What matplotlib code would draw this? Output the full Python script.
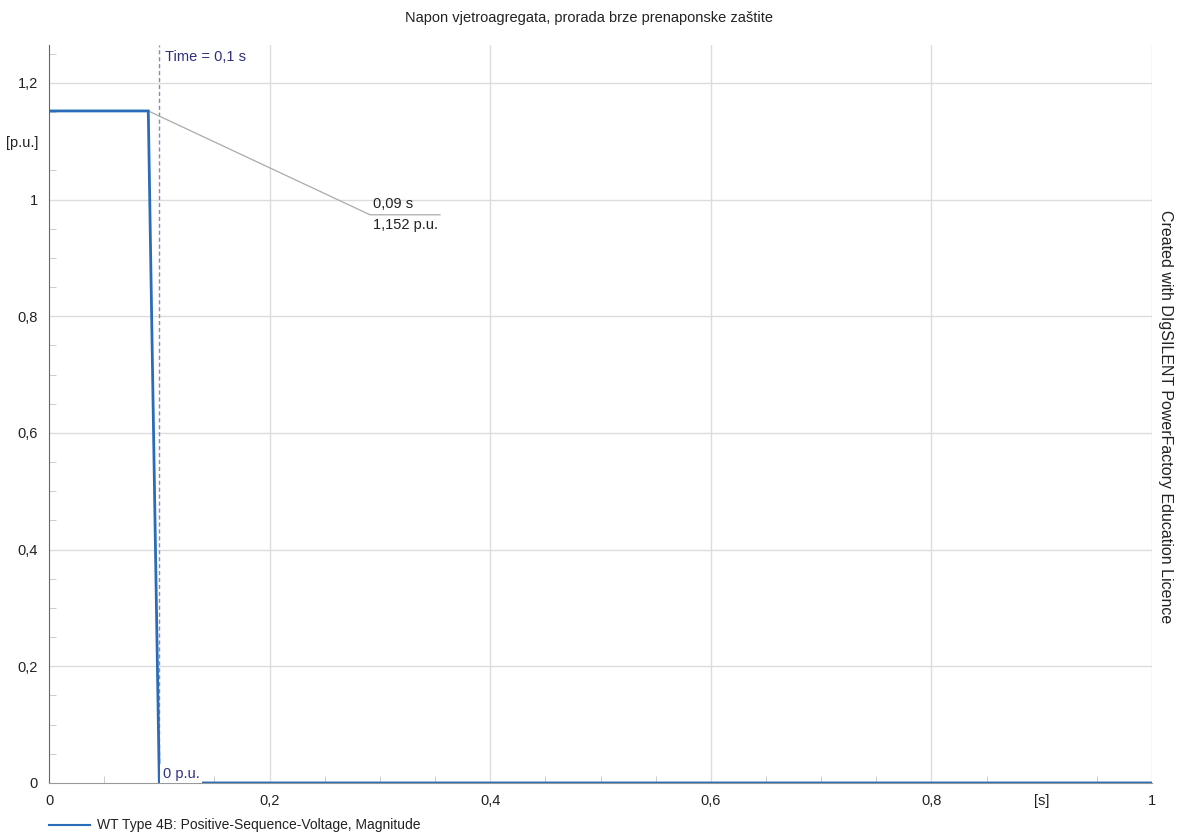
import numpy as np
import matplotlib.pyplot as plt
from matplotlib.ticker import MultipleLocator

plt.rcParams['font.family'] = ['Liberation Sans', 'DejaVu Sans']

# data
t = [0.0, 0.09, 0.1, 1.0]
u = [1.152, 1.152, 0.0, 0.0]
x_ticks = [0, 0.2, 0.4, 0.6, 0.8, 0.9, 1.0]
x_labels = ['0', '0,2', '0,4', '0,6', '0,8', '[s]', '1']
y_ticks = [0, 0.2, 0.4, 0.6, 0.8, 1.0, 1.1, 1.2]
y_labels = ['0', '0,2', '0,4', '0,6', '0,8', '1', '[p.u.]', '1,2']
cursor_t = 0.1
marker_t, marker_u = 0.09, 1.152

blue = '#2b6cb8'
navy = '#2e2e7e'

fig = plt.figure(figsize=(11.78, 8.34), dpi=100)
ax = fig.add_axes([0.0416, 0.0612, 0.9364, 0.8848])

ax.plot(t, u, color=blue, lw=2, zorder=3, solid_joinstyle='miter')
ax.set_xlim(0, 1)
ax.set_ylim(0, 1.265)

ax.set_xticks(x_ticks)
ax.set_xticklabels(x_labels)
ax.set_yticks(y_ticks)
ax.set_yticklabels(y_labels)
ax.xaxis.set_minor_locator(MultipleLocator(0.05))
ax.yaxis.set_minor_locator(MultipleLocator(0.05))
ax.tick_params(which='major', length=0, labelsize=10.5, colors='#222222', pad=8)
ax.tick_params(which='minor', direction='in', length=5, color='#c4c4c4')

for v in [0.2, 0.4, 0.6, 0.8, 1.0]:
    ax.axvline(v, color='#dcdcdc', lw=1, zorder=0)
for v in [0.2, 0.4, 0.6, 0.8, 1.0, 1.2]:
    ax.axhline(v, color='#dcdcdc', lw=1, zorder=0)

for s in ['top', 'right']:
    ax.spines[s].set_visible(False)
ax.spines['left'].set_color('#666666')
ax.spines['bottom'].set_color('#999999')

# time cursor
ax.axvline(cursor_t, color='#9484bc', lw=1, ls=(0, (3, 2)), zorder=2)
ax.text(cursor_t + 0.005, 1.245, 'Time = 0,1 s', color=navy, fontsize=10.5, va='center')
ax.text(cursor_t + 0.003, 0.004, '0 p.u.', color=navy, fontsize=10.5, va='bottom',
        bbox=dict(facecolor='white', edgecolor='none', pad=2), zorder=4)

# value marker
lx, ly, ex = 0.291, 0.974, 0.3545
ax.plot([marker_t, lx, ex], [marker_u, ly, ly], color='#aaaaaa', lw=0.9, zorder=2)
ax.text(lx + 0.003, ly + 0.006, '0,09 s', fontsize=10.5, color='#222222', va='bottom')
ax.text(lx + 0.003, ly - 0.006, '1,152 p.u.', fontsize=10.5, color='#222222', va='top')

fig.text(0.5, 0.978, 'Napon vjetroagregata, prorada brze prenaponske zaštite',
         ha='center', va='center', fontsize=10.5, color='#222222')
fig.text(0.989, 0.5, 'Created with DIgSILENT PowerFactory Education Licence',
         rotation=-90, ha='center', va='center', fontsize=11.5, color='#222222')

fig.lines.append(plt.Line2D([0.0416, 0.0764], [0.011, 0.011], color=blue, lw=1.5,
                            transform=fig.transFigure))
fig.text(0.0823, 0.011, 'WT Type 4B: Positive-Sequence-Voltage, Magnitude',
         fontsize=10, va='center', color='#222222')

fig.savefig('out.png', dpi=100)
